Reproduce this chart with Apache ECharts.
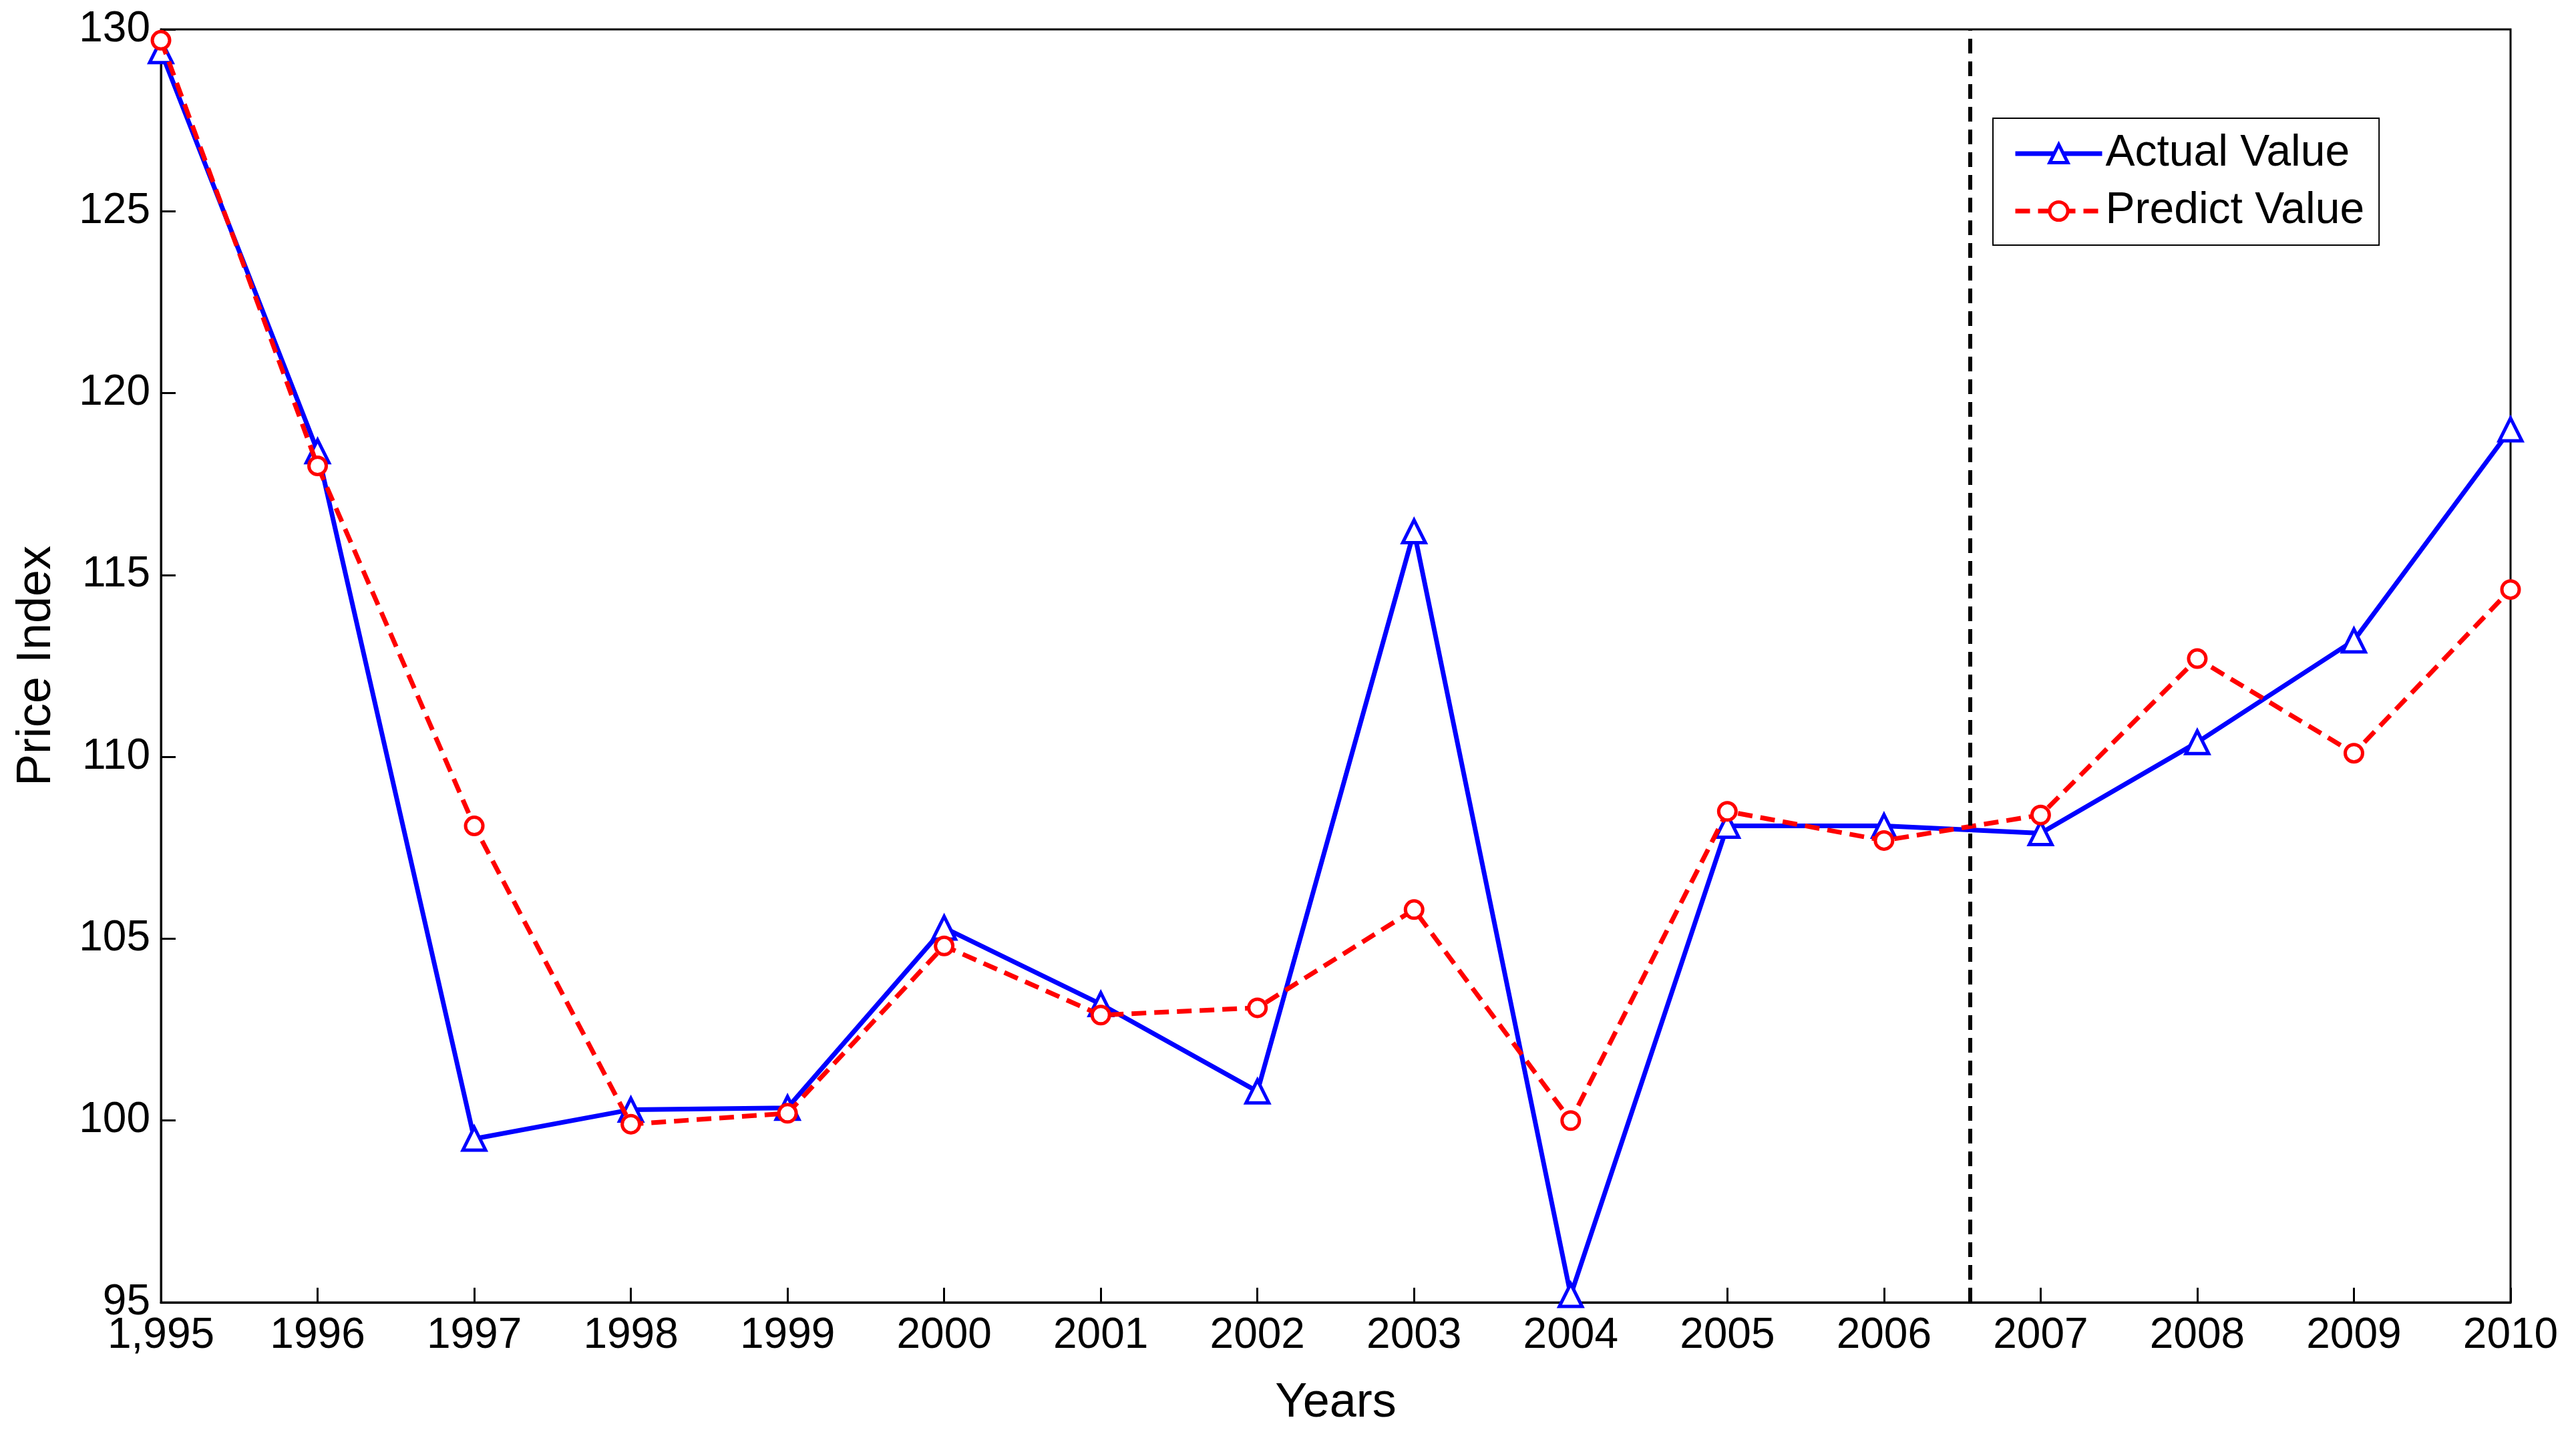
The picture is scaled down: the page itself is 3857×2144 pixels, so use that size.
<!DOCTYPE html>
<html><head><meta charset="utf-8">
<script src="https://cdn.jsdelivr.net/npm/echarts@6/dist/echarts.min.js"></script>
<style>html,body{margin:0;padding:0;background:#fff}#c{width:3857px;height:2144px}</style>
</head><body><div id="c"></div>
<script>
const years=[1995,1996,1997,1998,1999,2000,2001,2002,2003,2004,2005,2006,2007,2008,2009,2010];
const actual=[129.4,118.4,99.5,100.3,100.35,105.3,103.2,100.8,116.2,95.2,108.1,108.1,107.9,110.4,113.2,119.0];
const predict=[129.7,118.0,108.1,99.9,100.2,104.8,102.9,103.1,105.8,100.0,108.5,107.7,108.4,112.7,110.1,114.6];
const splitYear=2006.55;
const chart=echarts.init(document.getElementById('c'));
const font='Arial, Liberation Sans, sans-serif';
chart.setOption({
  animation:false,
  grid:{left:241,right:98,top:44,bottom:194,show:true,borderColor:'#000',borderWidth:3,backgroundColor:'transparent'},
  legend:{left:2984,top:177,orient:'vertical',itemWidth:130,itemHeight:34,itemGap:20,
    backgroundColor:'#fff',borderColor:'#000',borderWidth:2,padding:[20,22,18,30],
    lineStyle:{width:7},itemStyle:{borderWidth:5},
    textStyle:{fontFamily:font,fontSize:66,color:'#000'},
    data:['Actual Value','Predict Value']},
  xAxis:{type:'value',min:1995,max:2010,interval:1,name:'Years',nameLocation:'middle',nameGap:115,
    nameTextStyle:{fontFamily:font,fontSize:72,color:'#000'},
    axisLine:{lineStyle:{color:'#000',width:3}},axisTick:{inside:true,length:22,lineStyle:{color:'#000',width:3}},
    splitLine:{show:false},
    axisLabel:{fontFamily:font,fontSize:64,color:'#000',margin:18,formatter:v=>v===1995?'1,995':String(v)}},
  yAxis:{type:'value',min:95,max:130,interval:5,name:'Price Index',nameLocation:'middle',nameGap:150,
    nameTextStyle:{fontFamily:font,fontSize:72,color:'#000'},
    axisLine:{lineStyle:{color:'#000',width:3}},axisTick:{inside:true,length:22,lineStyle:{color:'#000',width:3}},
    splitLine:{show:false},
    axisLabel:{fontFamily:font,fontSize:64,color:'#000',margin:16}},
  series:[
    {name:'Actual Value',type:'line',data:years.map((y,i)=>[y,actual[i]]),symbol:'triangle',symbolSize:34,
      lineStyle:{color:'#0000ff',width:7},itemStyle:{color:'#fff',borderColor:'#0000ff',borderWidth:5},z:3,
      markLine:{silent:true,symbol:'none',label:{show:false},lineStyle:{color:'#000',type:[22,12],width:6},data:[{xAxis:splitYear}]}},
    {name:'Predict Value',type:'line',data:years.map((y,i)=>[y,predict[i]]),symbol:'circle',symbolSize:26,
      lineStyle:{color:'#ff0000',width:7,type:[22,12]},itemStyle:{color:'#fff',borderColor:'#ff0000',borderWidth:5},z:4}
  ]
});
</script></body></html>
